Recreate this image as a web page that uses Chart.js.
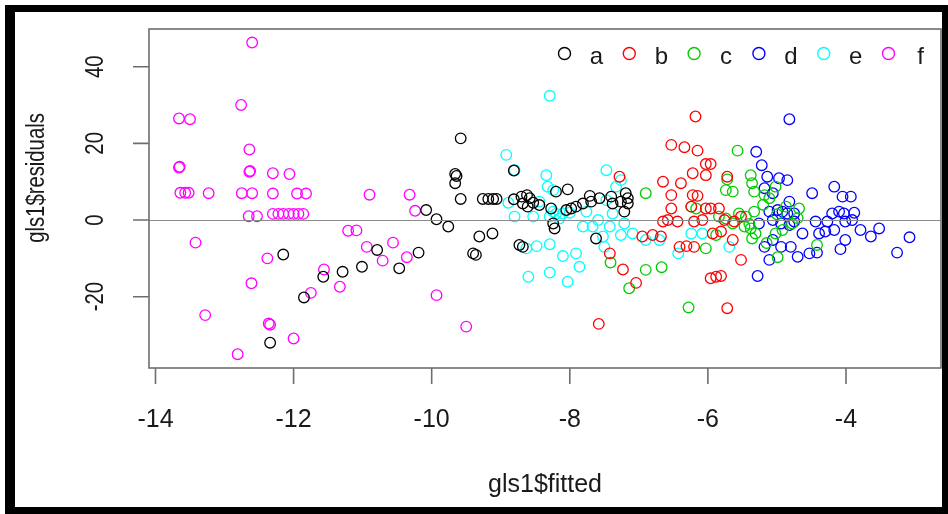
<!DOCTYPE html>
<html>
<head>
<meta charset="utf-8">
<script src="https://cdn.jsdelivr.net/npm/chart.js@4.4.0/dist/chart.umd.min.js"></script>
<style>
    html, body { margin: 0; padding: 0; background: #fff; }
    canvas { display: block; }
</style>
</head>
<body>
<canvas id="scatter" width="948" height="514"></canvas>
<script>
// Data
const groupA = [[-12.34,-32.0],[-12.15,-9.0],[-11.85,-20.2],[-11.57,-14.8],[-11.29,-13.5],[-11.01,-12.2],[-10.79,-7.8],[-10.47,-12.6],[-10.19,-8.5],[-10.08,2.6],[-9.93,0.2],[-9.76,-1.7],[-9.58,21.3],[-9.66,12.0],[-9.64,11.5],[-9.66,9.6],[-9.58,5.5],[-9.31,-4.3],[-9.12,-3.5],[-9.40,-8.7],[-9.36,-9.1],[-9.26,5.5],[-9.18,5.5],[-9.11,5.5],[-9.06,5.5],[-8.81,12.9],[-8.81,5.4],[-8.70,6.1],[-8.62,6.5],[-8.58,5.7],[-8.68,4.3],[-8.61,3.5],[-8.53,4.5],[-8.73,-6.5],[-8.68,-7.0],[-8.44,3.9],[-8.27,3.0],[-8.20,7.4],[-8.03,8.0],[-8.24,-0.9],[-8.22,-2.2],[-8.05,2.6],[-7.98,3.0],[-7.91,3.5],[-7.81,4.3],[-7.71,6.3],[-7.69,4.8],[-7.62,-4.8],[-7.57,5.7],[-7.40,6.1],[-7.38,4.3],[-7.26,4.8],[-7.19,7.0],[-7.16,5.7],[-7.16,4.3],[-7.21,2.2]];
const groupB = [[-6.18,27.0],[-6.53,19.6],[-6.34,19.0],[-6.15,18.1],[-6.03,14.6],[-5.96,14.6],[-7.28,11.3],[-6.65,10.0],[-6.39,9.6],[-6.22,12.2],[-6.03,11.7],[-5.72,11.3],[-6.53,6.5],[-6.22,6.5],[-6.15,6.3],[-6.53,3.0],[-6.24,3.5],[-6.03,3.0],[-5.96,3.0],[-5.84,3.0],[-6.65,-0.4],[-6.58,0],[-6.44,-0.4],[-6.20,-0.4],[-6.08,0],[-5.76,0],[-5.62,-0.4],[-5.52,0.9],[-6.95,-4.3],[-6.80,-3.9],[-6.68,-4.3],[-6.41,-7.0],[-6.31,-6.8],[-6.20,-7.0],[-5.93,-3.5],[-5.81,-3.0],[-5.64,-5.2],[-7.42,-8.7],[-7.23,-12.9],[-7.04,-16.4],[-5.52,-10.4],[-5.96,-15.2],[-5.88,-14.8],[-5.81,-14.6],[-5.72,-23.0],[-7.58,-27.1]];
const groupC = [[-5.57,18.1],[-6.90,7.0],[-5.38,11.7],[-5.36,9.6],[-5.33,7.4],[-5.74,7.8],[-5.64,7.4],[-5.72,10.6],[-5.18,6.5],[-5.11,5.7],[-5.02,8.7],[-6.24,3.5],[-6.17,3.0],[-5.84,0.9],[-5.74,0.4],[-5.55,1.7],[-5.45,0.9],[-5.33,2.2],[-5.64,-0.9],[-5.47,-1.7],[-5.38,-2.2],[-5.31,-3.5],[-5.36,-4.8],[-4.87,3.5],[-4.68,3.0],[-4.78,-0.9],[-5.02,-3.5],[-4.92,-2.6],[-4.42,-6.5],[-4.99,-9.7],[-6.03,-7.4],[-5.88,-3.9],[-6.90,-13.0],[-6.67,-12.3],[-7.41,-11.1],[-7.14,-17.8],[-6.28,-22.8],[-5.20,4.0],[-5.00,1.5],[-4.70,0.5],[-5.40,-1.0],[-5.15,-6.0]];
const groupD = [[-4.82,26.3],[-5.30,17.8],[-5.22,14.3],[-5.14,11.3],[-4.97,10.9],[-4.85,10.4],[-5.18,8.3],[-5.06,7.0],[-4.49,7.0],[-4.17,8.7],[-4.05,6.1],[-3.93,6.1],[-5.11,2.2],[-4.99,2.6],[-4.92,2.2],[-4.85,1.7],[-4.82,4.8],[-4.75,1.7],[-5.26,-0.9],[-5.06,0],[-4.94,-0.9],[-4.82,-1.3],[-4.75,-0.4],[-4.63,-3.5],[-4.44,-0.4],[-4.27,-0.4],[-4.39,-3.5],[-4.30,-3.0],[-4.17,-2.6],[-4.20,1.7],[-4.10,2.2],[-4.03,1.7],[-3.88,1.9],[-4.01,-0.4],[-3.91,0],[-3.79,-2.6],[-3.64,-4.3],[-3.52,-2.2],[-4.01,-5.2],[-4.08,-7.6],[-5.18,-7.0],[-5.06,-5.2],[-4.94,-7.0],[-4.80,-7.0],[-5.11,-10.4],[-4.70,-9.6],[-4.53,-8.7],[-4.42,-8.5],[-5.28,-14.6],[-3.26,-8.5],[-3.08,-4.5]];
const groupE = [[-8.29,32.4],[-8.92,17.0],[-8.80,13.0],[-8.34,11.7],[-8.32,8.7],[-8.24,7.8],[-7.47,13.0],[-7.26,10.4],[-8.89,4.5],[-8.80,0.9],[-8.53,0.9],[-8.44,4.8],[-8.29,0.9],[-8.20,1.6],[-8.10,1.7],[-8.00,1.9],[-8.24,2.2],[-8.15,0.4],[-7.81,-1.7],[-7.76,2.2],[-7.67,-1.7],[-7.59,0],[-7.47,5.2],[-7.38,1.7],[-7.33,8.7],[-7.42,-1.7],[-7.21,-0.9],[-7.26,-3.9],[-7.09,-3.5],[-7.52,-4.3],[-7.50,-7.0],[-8.63,-7.4],[-8.48,-6.8],[-8.29,-6.3],[-8.10,-9.4],[-7.91,-8.7],[-7.86,-12.2],[-8.60,-14.8],[-8.29,-13.7],[-8.03,-16.1],[-6.90,-5.2],[-6.70,-5.2],[-6.43,-8.7],[-6.24,-3.5],[-5.69,-7.0],[-6.08,-3.5]];
const groupF = [[-12.60,46.3],[-12.76,30.0],[-13.66,26.5],[-13.50,26.3],[-12.64,18.4],[-13.66,13.7],[-13.65,13.9],[-12.64,12.6],[-12.63,12.8],[-12.30,12.2],[-12.06,12.0],[-13.64,7.1],[-13.57,7.1],[-13.52,7.1],[-13.23,7.0],[-12.75,7.0],[-12.60,7.0],[-12.30,6.9],[-11.95,6.9],[-11.82,6.9],[-10.90,6.6],[-10.32,6.6],[-10.24,2.4],[-12.65,1.0],[-12.53,1.0],[-12.30,1.6],[-12.22,1.6],[-12.15,1.6],[-12.07,1.6],[-12.00,1.6],[-11.93,1.6],[-11.86,1.6],[-13.42,-5.9],[-11.21,-2.8],[-11.09,-2.7],[-10.94,-7.0],[-10.56,-5.9],[-10.71,-10.6],[-10.36,-9.7],[-12.38,-10.0],[-11.56,-12.9],[-12.61,-16.5],[-11.33,-17.4],[-11.75,-19.0],[-9.93,-19.6],[-13.28,-24.8],[-12.36,-27.0],[-12.34,-27.3],[-12.00,-30.9],[-12.81,-35.0],[-9.50,-27.8]];

const groupLabels = ['a', 'b', 'c', 'd', 'e', 'f'];
const groupColors = ['#000000', '#FF0000', '#00CD00', '#0000FF', '#00FFFF', '#FF00FF'];
const xTicks = [-14, -12, -10, -8, -6, -4];
const yTicks = [-20, 0, 20, 40];
const xTitle = 'gls1$fitted';
const yTitle = 'gls1$residuals';

const FONT = '"Liberation Sans", Arial, Helvetica, sans-serif';
const groups = [groupA, groupB, groupC, groupD, groupE, groupF];

// draw text rotated bottom-to-top, squeezed along its length
function rotatedText(ctx, text, x, y, size, squeeze) {
    ctx.save();
    ctx.translate(x, y);
    ctx.rotate(-Math.PI / 2);
    ctx.scale(squeeze, 1);
    ctx.font = size + 'px ' + FONT;
    ctx.textAlign = 'center';
    ctx.textBaseline = 'alphabetic';
    ctx.fillText(text, 0, 0);
    ctx.restore();
}

// R-like base graphics: box, axes, abline, legend, outer frame
const rStyle = {
    id: 'rStyle',
    afterDatasetsDraw(chart) {
        const { ctx, chartArea: a, scales: { y } } = chart;
        const y0 = y.getPixelForValue(0);
        ctx.save();
        ctx.strokeStyle = '#8a8a8a';
        ctx.lineWidth = 1;
        ctx.beginPath();
        ctx.moveTo(a.left, Math.round(y0) + 0.5);
        ctx.lineTo(a.right, Math.round(y0) + 0.5);
        ctx.stroke();
        ctx.restore();
    },
    afterDraw(chart) {
        const { ctx, chartArea: a, scales: { x, y } } = chart;
        ctx.save();

        // box
        ctx.strokeStyle = '#6e6e6e';
        ctx.lineWidth = 1.6;
        ctx.strokeRect(a.left, a.top, a.right - a.left, a.bottom - a.top);

        // x axis ticks + labels
        ctx.fillStyle = '#1a1a1a';
        ctx.font = '25px ' + FONT;
        ctx.textAlign = 'center';
        ctx.textBaseline = 'alphabetic';
        ctx.beginPath();
        xTicks.forEach(v => {
            const px = x.getPixelForValue(v);
            ctx.moveTo(px, a.bottom);
            ctx.lineTo(px, a.bottom + 16);
            ctx.fillText(String(v), px, 427);
        });
        // y axis ticks + labels
        yTicks.forEach(v => {
            const py = y.getPixelForValue(v);
            ctx.moveTo(a.left - 16, py);
            ctx.lineTo(a.left, py);
            rotatedText(ctx, String(v), 103, py, 26, 0.78);
        });
        ctx.stroke();

        // axis titles
        ctx.font = '25px ' + FONT;
        ctx.fillText(xTitle, (a.left + a.right) / 2, 492);
        rotatedText(ctx, yTitle, 44, 178, 26, 0.78);

        // legend (horizontal, no box)
        chart.data.datasets.forEach((ds, i) => {
            const cx = 564.5 + i * 64.8;
            ctx.beginPath();
            ctx.strokeStyle = ds.borderColor;
            ctx.lineWidth = 1.4;
            ctx.arc(cx, 53.5, 6, 0, Math.PI * 2);
            ctx.stroke();
            ctx.fillStyle = '#1a1a1a';
            ctx.font = '24px ' + FONT;
            ctx.textAlign = 'center';
            ctx.fillText(ds.label, cx + 32, 64);
        });

        // outer black frame
        ctx.fillStyle = '#000';
        ctx.fillRect(5, 5, 10, 509);
        ctx.fillRect(5, 5, 943, 7);
        ctx.fillRect(942, 5, 6, 509);
        ctx.fillRect(5, 507, 943, 7);
        ctx.restore();
    }
};

window.addEventListener('load', () => {
    const canvas = document.getElementById('scatter');

    new Chart(canvas, {
        type: 'scatter',
        data: {
            datasets: groups.map((g, i) => ({
                label: groupLabels[i],
                data: g.map(p => ({ x: p[0], y: p[1] })),
                borderColor: groupColors[i],
                backgroundColor: 'rgba(0,0,0,0)',
                pointRadius: 5.3,
                pointBorderWidth: 1.3,
                pointStyle: 'circle'
            }))
        },
        options: {
            responsive: false,
            animation: false,
            clip: false,
            layout: {
                padding: { left: 149, top: 29, right: 7, bottom: 146 }
            },
            scales: {
                x: { type: 'linear', min: -14.094, max: -2.624, display: false },
                y: { type: 'linear', min: -38.6, max: 49.83, display: false }
            },
            plugins: {
                legend: { display: false },
                tooltip: { enabled: false }
            }
        },
        plugins: [rStyle]
    });
});
</script>
</body>
</html>
